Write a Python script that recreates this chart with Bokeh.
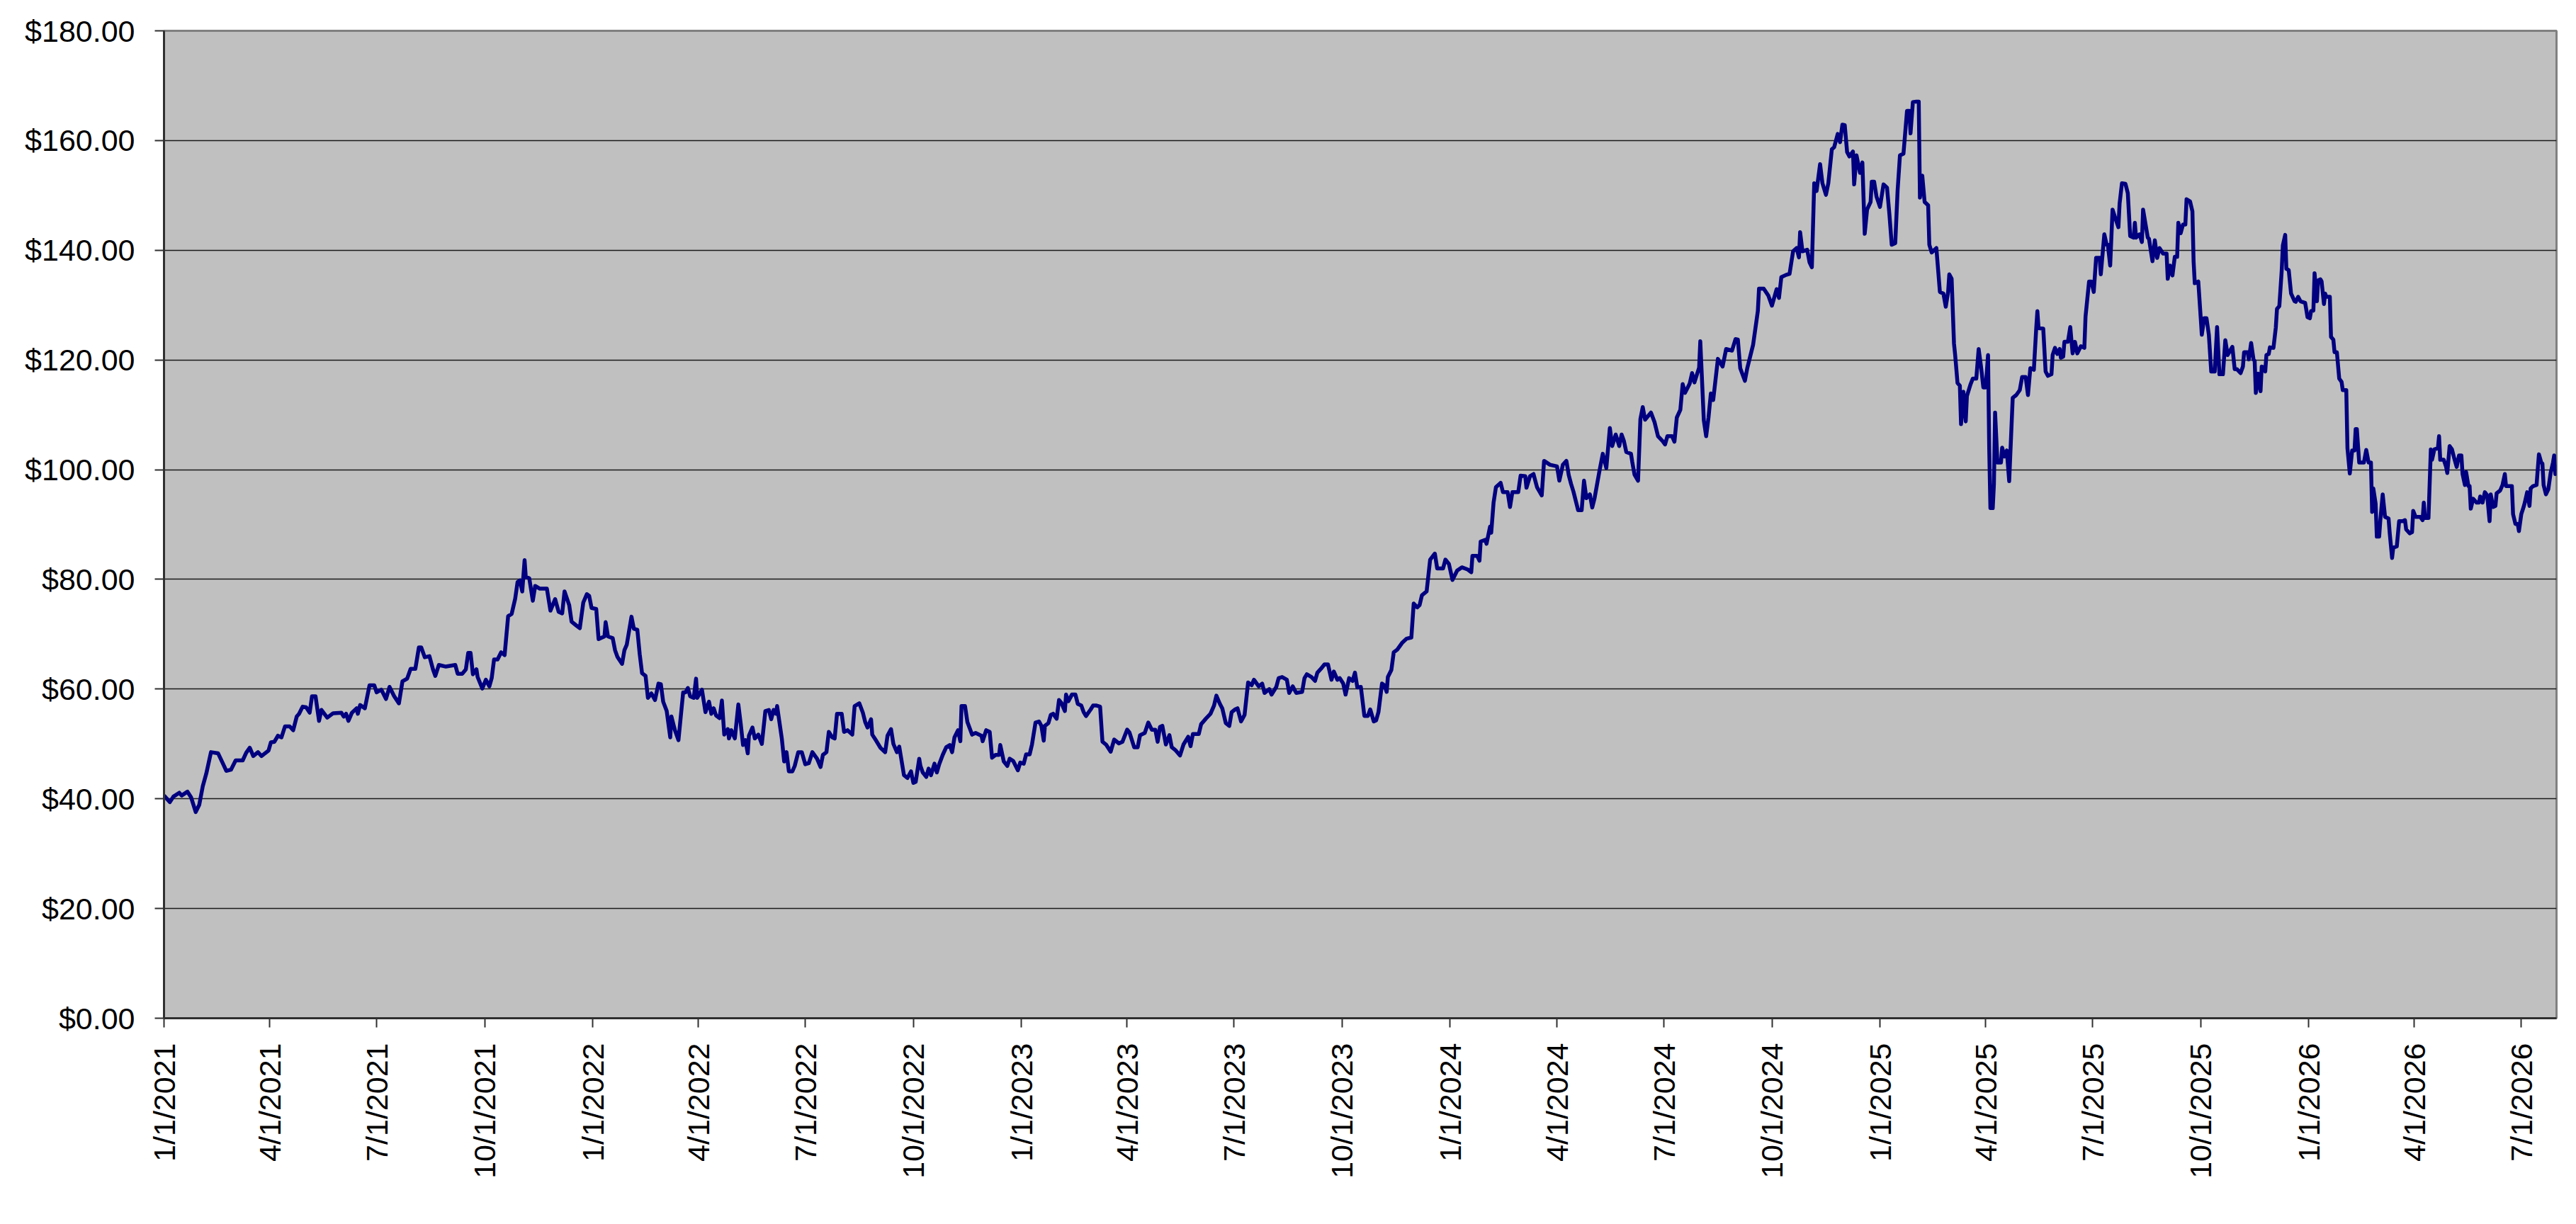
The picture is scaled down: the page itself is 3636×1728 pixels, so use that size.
import math
from datetime import datetime, timedelta

from bokeh.plotting import figure
from bokeh.models import (ColumnDataSource, Range1d, FixedTicker,
                          NumeralTickFormatter, CustomJSTickFormatter)
from bokeh.embed import file_html
from bokeh.resources import INLINE

# ---------------- data: (days since 1/1/2021, closing price) ----------------
start_date = "2021-01-01"

trace_2021 = [
    (0, 40.6), (5, 39.4), (8, 40.4), (13, 41.1), (15, 40.6), (20, 41.3), (23, 40.3), (27, 37.6), (30, 38.9), (33, 42.3),
    (36, 44.6), (40, 48.5), (46, 48.3), (50, 46.5), (53, 45.1), (57, 45.3), (61, 47.0), (67, 47.0), (70, 48.4), (73, 49.3),
    (76, 47.8), (80, 48.5), (83, 47.8), (89, 48.8), (91, 50.3), (94, 50.4), (97, 51.5), (100, 51.2), (103, 53.2), (107, 53.2),
    (110, 52.5), (113, 55.0), (115, 55.5), (118, 56.8), (121, 56.7), (124, 55.7), (126, 58.7), (129, 58.7), (132, 54.2), (134, 56.2),
    (139, 54.8), (144, 55.6), (151, 55.7), (153, 55.0), (155, 55.5), (157, 54.2), (160, 55.7), (164, 56.5), (165, 55.5), (167, 57.1),
    (171, 56.5), (175, 60.7), (179, 60.7), (181, 59.4), (185, 59.9), (189, 58.2), (192, 60.4), (196, 58.7), (200, 57.4), (203, 61.4),
    (207, 61.9), (210, 63.7), (214, 63.7), (217, 67.6), (219, 67.6), (222, 65.8), (226, 66.0), (229, 63.6), (231, 62.4), (234, 64.4),
    (240, 64.1), (248, 64.4), (250, 62.8), (254, 62.8), (257, 63.6), (259, 66.6), (261, 66.6), (263, 62.7), (266, 63.6), (267, 62.2),
    (271, 60.1), (274, 61.7), (277, 60.5), (279, 62.0), (281, 65.4), (284, 65.4), (287, 66.7), (290, 66.2), (293, 73.3), (296, 73.7),
    (299, 76.5), (301, 79.5), (303, 79.8), (305, 77.8), (307, 83.5), (308, 80.5), (311, 80.2), (314, 76.1), (316, 78.8), (320, 78.3),
    (326, 78.3), (329, 74.3), (333, 76.4), (336, 74.1), (339, 73.8), (341, 77.8), (345, 75.3), (347, 72.3), (351, 71.6), (354, 71.1),
    (357, 75.8), (360, 77.3),
]

trace_2022 = [
    (362, 77.0), (364, 74.8), (368, 74.6), (370, 69.1), (372, 69.3), (375, 69.6), (376, 72.2), (378, 69.6), (382, 69.3), (384, 67.1),
    (386, 65.9), (390, 64.6), (392, 67.1), (394, 68.1), (398, 73.2), (400, 71.0), (403, 70.8), (405, 66.4), (407, 62.9), (410, 62.4),
    (412, 58.4), (415, 59.2), (418, 58.0), (421, 61.0), (423, 60.9), (425, 57.7), (428, 56.0), (431, 51.2), (432, 55.0), (435, 52.5),
    (438, 50.7), (442, 59.4), (444, 59.4), (446, 60.2), (448, 58.7), (451, 58.4), (453, 61.9), (454, 58.4), (458, 59.9), (461, 55.8),
    (464, 57.7), (466, 55.5), (468, 56.5), (470, 55.2), (473, 54.7), (475, 57.9), (477, 51.7), (480, 52.7), (481, 51.0), (483, 52.5),
    (486, 51.0), (489, 57.2), (491, 53.7), (493, 49.8), (495, 50.7), (497, 48.3), (498, 51.5), (501, 53.0), (503, 51.0), (506, 51.7),
    (509, 50.0), (512, 56.0), (515, 56.2), (517, 54.5), (519, 56.2), (521, 55.5), (522, 56.9), (526, 51.0), (528, 46.8), (530, 48.5),
    (532, 45.0), (535, 45.0), (537, 46.0), (540, 48.5), (543, 48.5), (546, 46.3), (549, 46.5), (552, 48.5), (556, 47.3), (559, 45.8),
    (561, 48.0), (564, 48.5), (566, 52.2), (569, 51.2), (571, 51.0), (573, 55.5), (577, 55.5), (579, 52.2), (582, 52.5), (586, 51.7),
    (588, 56.9), (592, 57.4), (595, 55.7), (597, 54.0), (599, 53.0), (602, 54.5), (603, 51.7), (606, 50.7), (610, 49.3), (614, 48.5),
    (616, 51.5), (619, 52.7), (621, 50.0), (624, 48.5), (626, 49.5), (630, 44.3), (633, 43.8), (636, 45.0), (638, 42.9), (640, 43.1),
    (643, 47.3), (644, 46.0), (646, 44.8), (649, 44.0), (651, 45.5), (653, 44.3), (656, 46.4), (658, 44.8), (660, 46.3), (663, 48.0),
    (666, 49.4), (669, 49.8), (671, 48.5), (673, 51.2), (676, 52.5), (678, 50.5), (679, 56.9), (682, 56.9), (684, 54.0), (688, 51.7),
    (691, 52.0), (696, 51.5), (697, 50.5), (700, 52.5), (703, 52.2), (705, 47.5), (708, 48.0), (711, 48.0), (712, 49.8), (715, 46.8),
    (718, 46.0), (720, 47.3), (723, 46.9),
]

trace_2023 = [
    (727, 45.2), (729, 46.6), (732, 46.4), (734, 48.1), (737, 48.1), (739, 49.9), (742, 53.9), (745, 54.1), (747, 53.3), (749, 50.6),
    (750, 53.3), (753, 53.8), (755, 55.3), (757, 55.5), (760, 54.6), (762, 58.0), (764, 57.5), (767, 56.0), (768, 59.0), (770, 57.8),
    (773, 59.0), (776, 59.0), (778, 57.3), (781, 57.0), (783, 55.8), (785, 55.1), (789, 56.3), (791, 57.0), (794, 57.0), (797, 56.8),
    (799, 50.4), (802, 49.9), (806, 48.6), (809, 50.8), (813, 50.1), (816, 50.4), (820, 52.6), (822, 52.1), (826, 49.4), (829, 49.4),
    (831, 51.6), (835, 52.0), (838, 53.9), (841, 52.6), (844, 52.6), (846, 50.4), (848, 53.1), (850, 53.3), (853, 49.9), (856, 51.6),
    (858, 49.4), (861, 48.9), (865, 47.9), (868, 49.9), (872, 51.3), (874, 49.6), (876, 51.8), (881, 51.8), (883, 53.6), (887, 54.6),
    (891, 55.5), (894, 57.0), (896, 58.8), (899, 57.3), (901, 56.5), (904, 53.8), (907, 53.3), (909, 55.8), (912, 56.3), (914, 56.5),
    (917, 54.1), (920, 55.3), (923, 61.2), (926, 60.7), (928, 61.7), (932, 60.5), (935, 61.0), (937, 59.3), (941, 60.0), (943, 59.0),
    (947, 60.4), (949, 62.0), (952, 62.2), (956, 61.7), (958, 59.3), (961, 60.5), (964, 59.3), (969, 59.5), (971, 62.0), (973, 62.7),
    (977, 62.2), (980, 61.5), (982, 63.0), (985, 63.7), (988, 64.5), (991, 64.5), (994, 61.7), (996, 63.2), (999, 61.7), (1001, 62.0),
    (1004, 61.0), (1006, 59.0), (1009, 62.0), (1012, 61.5), (1014, 63.0), (1016, 60.3), (1019, 60.4), (1022, 55.1), (1025, 55.1), (1027, 56.3),
    (1030, 54.1), (1032, 54.3), (1034, 55.8), (1037, 61.0), (1039, 60.7), (1041, 59.5), (1042, 62.2), (1045, 63.5), (1047, 66.7), (1050, 67.2),
    (1054, 68.4), (1058, 69.2), (1062, 69.4), (1064, 75.6), (1067, 74.9), (1069, 75.3),
]

trace_2024 = [
    (1071, 77.1), (1075, 77.8), (1078, 83.6), (1082, 84.7), (1084, 82.0), (1089, 82.0), (1091, 83.6), (1094, 82.8), (1097, 79.9), (1101, 81.6),
    (1105, 82.2), (1110, 81.8), (1113, 81.3), (1114, 84.3), (1118, 84.3), (1120, 83.4), (1121, 86.9), (1125, 87.2), (1126, 86.5), (1129, 89.6),
    (1130, 88.5), (1132, 94.0), (1134, 96.8), (1138, 97.6), (1140, 95.9), (1144, 95.9), (1146, 93.2), (1148, 95.9), (1153, 95.9), (1155, 98.9),
    (1159, 98.8), (1160, 96.7), (1163, 98.8), (1166, 99.2), (1169, 96.8), (1173, 95.3), (1175, 101.6), (1180, 100.9), (1186, 100.6), (1188, 98.0),
    (1191, 100.9), (1194, 101.6), (1196, 99.0), (1198, 97.4), (1200, 96.0), (1204, 92.6), (1207, 92.6), (1209, 98.0), (1211, 94.8), (1214, 95.5),
    (1216, 93.1), (1218, 94.8), (1222, 99.6), (1225, 102.9), (1228, 100.3), (1231, 107.6), (1233, 104.3), (1236, 106.4), (1239, 104.3), (1241, 106.4),
    (1243, 105.2), (1245, 103.2), (1249, 102.9), (1250, 101.5), (1252, 99.1), (1255, 98.0), (1257, 109.2), (1259, 111.4), (1261, 109.1), (1266, 110.4),
    (1269, 108.7), (1272, 106.1), (1276, 105.2), (1278, 104.6), (1280, 106.1), (1284, 106.1), (1286, 105.1), (1288, 109.5), (1291, 110.9), (1293, 115.6),
    (1295, 114.0), (1299, 115.7), (1301, 117.6), (1303, 115.9), (1307, 118.6), (1308, 123.4), (1311, 109.0), (1313, 106.1), (1315, 109.5), (1317, 113.9),
    (1319, 112.7), (1323, 120.2), (1327, 118.8), (1330, 122.0), (1335, 121.7), (1338, 123.8), (1340, 123.7), (1342, 118.5), (1346, 116.2), (1348, 118.5),
    (1353, 122.8), (1357, 128.9), (1358, 133.0), (1362, 133.0), (1366, 131.7), (1369, 129.9), (1373, 132.9), (1375, 131.3), (1377, 135.1), (1381, 135.5),
    (1384, 135.7), (1387, 139.8), (1390, 140.4), (1392, 138.7), (1393, 143.3), (1395, 139.8), (1399, 140.1), (1401, 137.8), (1403, 136.9), (1405, 152.2),
    (1407, 150.8), (1410, 155.7), (1412, 152.2), (1415, 150.1), (1417, 152.2), (1420, 158.4), (1422, 158.8), (1425, 161.2), (1427, 159.7),
]

trace_2025 = [
    (1429, 162.9), (1431, 162.8), (1433, 157.9), (1435, 157.1), (1438, 158.0), (1439, 152.0), (1441, 157.3), (1444, 154.1), (1446, 156.0), (1448, 143.0),
    (1450, 147.4), (1453, 148.8), (1454, 152.5), (1456, 152.5), (1458, 149.8), (1461, 147.9), (1464, 152.0), (1467, 151.4), (1469, 146.6), (1471, 141.0),
    (1474, 141.3), (1476, 150.9), (1478, 157.3), (1481, 157.6), (1484, 165.4), (1486, 165.4), (1487, 161.3), (1489, 167.0), (1492, 167.1), (1494, 167.1),
    (1495, 149.6), (1497, 153.6), (1499, 148.8), (1502, 148.2), (1503, 141.0), (1505, 139.6), (1509, 140.4), (1512, 132.4), (1515, 132.1), (1517, 129.7),
    (1519, 132.4), (1520, 135.6), (1522, 134.8), (1524, 123.0), (1525, 120.9), (1527, 115.8), (1529, 115.3), (1530, 108.3), (1532, 114.2), (1534, 108.8),
    (1535, 113.4), (1538, 115.5), (1540, 116.6), (1543, 116.6), (1545, 122.0), (1547, 118.8), (1549, 115.0), (1551, 115.0), (1553, 120.9), (1554, 103.8),
    (1555, 93.0), (1557, 93.0), (1558, 97.3), (1559, 110.4), (1561, 101.3), (1564, 101.3), (1565, 104.0), (1567, 102.4), (1569, 103.5), (1571, 97.9),
    (1574, 113.1), (1577, 113.6), (1580, 114.5), (1582, 116.9), (1585, 116.9), (1587, 113.6), (1589, 118.5), (1592, 118.2), (1594, 125.7), (1595, 128.9),
    (1596, 125.8), (1600, 125.7), (1602, 117.9), (1604, 117.1), (1607, 117.4), (1608, 120.9), (1610, 122.2), (1612, 121.1), (1614, 122.0), (1615, 120.4),
    (1617, 120.6), (1618, 123.3), (1621, 123.3), (1623, 126.0), (1625, 121.2), (1627, 123.3), (1629, 121.2), (1632, 122.5), (1635, 122.2), (1636, 127.9),
    (1639, 134.3), (1641, 134.3), (1643, 132.4), (1645, 138.6), (1648, 138.6), (1649, 135.6), (1652, 142.9), (1654, 141.0), (1655, 141.0), (1657, 137.2),
    (1659, 147.4), (1661, 146.1), (1664, 144.2), (1665, 148.5), (1667, 152.2), (1670, 152.1), (1672, 150.4), (1674, 142.6), (1677, 142.3), (1678, 145.0),
    (1679, 142.3), (1682, 142.9), (1684, 141.5), (1685, 147.4), (1689, 142.3), (1690, 142.1), (1693, 138.0), (1695, 141.8), (1697, 138.6), (1699, 140.4),
    (1702, 139.4), (1705, 139.4), (1706, 134.8), (1708, 137.2), (1710, 135.4), (1712, 138.8), (1714, 138.8), (1715, 145.0), (1717, 143.1), (1719, 144.7),
    (1721, 144.7), (1722, 149.3), (1725, 148.9), (1727, 147.1), (1728, 138.0), (1729, 134.0), (1732, 134.3), (1734, 127.9), (1735, 124.6), (1737, 127.6),
    (1739, 127.6), (1741, 124.6), (1743, 117.9), (1746, 117.9), (1748, 126.0), (1750, 117.4), (1753, 117.4), (1755, 123.6), (1757, 120.9),
]

trace_2026 = [
    (1761, 122.4), (1763, 118.3), (1765, 118.3), (1768, 117.6), (1770, 118.8), (1771, 121.4), (1774, 121.4), (1775, 120.1), (1777, 123.1), (1779, 120.1),
    (1780, 119.8), (1781, 114.0), (1783, 117.5), (1785, 114.3), (1786, 118.8), (1788, 118.6), (1789, 117.9), (1790, 120.9), (1792, 121.1), (1793, 122.3),
    (1796, 122.2), (1798, 125.9), (1799, 129.3), (1801, 129.8), (1803, 136.2), (1804, 140.9), (1806, 142.8), (1807, 136.6), (1809, 136.4), (1811, 132.1),
    (1814, 130.7), (1815, 130.6), (1817, 131.5), (1819, 130.7), (1823, 130.4), (1825, 127.8), (1827, 127.6), (1828, 128.9), (1830, 129.0), (1831, 135.8),
    (1833, 130.7), (1834, 134.5), (1836, 134.7), (1837, 134.3), (1839, 130.2), (1840, 132.1), (1841, 131.5), (1844, 131.5), (1845, 124.2), (1847, 123.7),
    (1848, 121.4), (1850, 121.4), (1852, 116.6), (1854, 116.0), (1855, 114.5), (1858, 114.5), (1859, 103.9), (1861, 99.3), (1863, 103.5), (1865, 103.5),
    (1866, 107.4), (1867, 107.4), (1869, 101.3), (1871, 101.3), (1873, 101.3), (1875, 103.6), (1877, 101.3), (1879, 101.3), (1880, 92.3), (1881, 96.6),
    (1883, 93.8), (1884, 87.8), (1886, 87.8), (1887, 90.8), (1889, 95.5), (1891, 91.4), (1894, 91.1), (1895, 88.4), (1897, 83.9), (1898, 85.8),
    (1901, 86.0), (1903, 90.6), (1906, 90.6), (1908, 90.8), (1909, 89.1), (1912, 88.4), (1914, 88.6), (1915, 92.5), (1917, 91.4), (1921, 91.4),
    (1923, 90.8), (1924, 94.0), (1925, 91.2), (1928, 91.2), (1930, 103.7), (1931, 101.8), (1933, 103.7), (1936, 103.9), (1937, 106.1), (1938, 101.8),
    (1941, 101.8), (1943, 100.5), (1944, 99.4), (1946, 104.3), (1948, 103.7), (1950, 102.0), (1952, 100.5), (1954, 102.6), (1956, 102.6), (1957, 99.2),
    (1959, 97.2), (1960, 99.6), (1962, 97.0), (1963, 97.0), (1964, 92.9), (1966, 94.7), (1969, 94.0), (1971, 94.0), (1972, 95.1), (1974, 94.0),
    (1976, 95.9), (1978, 95.3), (1980, 90.6), (1981, 95.5), (1983, 93.2), (1985, 93.4), (1986, 95.7), (1989, 96.2), (1991, 97.2), (1993, 99.2),
    (1994, 97.0), (1999, 97.0), (2000, 91.9), (2002, 90.1), (2004, 90.1), (2005, 88.8), (2007, 91.9), (2009, 93.2), (2010, 94.0), (2012, 95.9),
    (2014, 93.4), (2015, 96.6), (2017, 97.0), (2020, 97.2), (2022, 102.8), (2024, 101.3), (2025, 101.1), (2026, 97.2), (2028, 95.5), (2030, 96.4),
    (2032, 99.4), (2034, 101.3), (2035, 102.6), (2036, 99.2), (2037, 100.9),
]

tick_dates = [
    "2021-01-01", "2021-04-01", "2021-07-01", "2021-10-01",
    "2022-01-01", "2022-04-01", "2022-07-01", "2022-10-01",
    "2023-01-01", "2023-04-01", "2023-07-01", "2023-10-01",
    "2024-01-01", "2024-04-01", "2024-07-01", "2024-10-01",
    "2025-01-01", "2025-04-01", "2025-07-01", "2025-10-01",
    "2026-01-01", "2026-04-01", "2026-07-01",
]
price_ticks = [0, 20, 40, 60, 80, 100, 120, 140, 160, 180]

# ---------------- build ----------------
t0 = datetime.strptime(start_date, "%Y-%m-%d")
EPOCH = datetime(1970, 1, 1)


def to_ms(dt):
    return (dt - EPOCH).total_seconds() * 1000.0


all_pts = trace_2021 + trace_2022 + trace_2023 + trace_2024 + trace_2025 + trace_2026
xs = [to_ms(t0 + timedelta(days=d)) for d, _ in all_pts]
ys = [v for _, v in all_pts]
src = ColumnDataSource(data=dict(date=xs, close=ys))

FONT = "Liberation Sans"

p = figure(
    width=3620, height=1712,
    x_axis_type="datetime",
    output_backend="svg", toolbar_location=None,
    x_range=Range1d(xs[0], xs[-1]),
    y_range=Range1d(0, 180),
)
p.min_border_left = 231
p.min_border_right = 12
p.min_border_top = 43
p.min_border_bottom = 275

p.background_fill_color = "#C0C0C0"
p.border_fill_color = "white"
p.outline_line_color = "#808080"
p.outline_line_width = 3

p.line("date", "close", source=src, line_color="#000080", line_width=5.5, line_join="round")

# axes
p.xaxis.ticker = FixedTicker(ticks=[to_ms(datetime.strptime(s, "%Y-%m-%d")) for s in tick_dates])
p.xaxis.formatter = CustomJSTickFormatter(code="""
const d = new Date(tick);
return (d.getUTCMonth() + 1) + "/" + d.getUTCDate() + "/" + d.getUTCFullYear();
""")
p.xaxis.major_label_orientation = math.pi / 2
p.yaxis.ticker = FixedTicker(ticks=price_ticks)
p.yaxis.formatter = NumeralTickFormatter(format="$0.00")

for ax in (p.xaxis, p.yaxis):
    ax.axis_line_color = "#303030"
    ax.axis_line_width = 3
    ax.major_tick_line_color = "#303030"
    ax.major_tick_line_width = 2
    ax.major_tick_in = 0
    ax.major_tick_out = 13
    ax.minor_tick_line_color = None
    ax.major_label_text_font = FONT
    ax.major_label_text_font_size = "43px"
    ax.major_label_text_color = "black"

p.yaxis.major_label_standoff = 28
p.xaxis.major_label_standoff = 22

p.xgrid.visible = False
p.ygrid.grid_line_color = "#1a1a1a"
p.ygrid.grid_line_width = 1.5

open("out.html", "w").write(file_html(p, INLINE))
